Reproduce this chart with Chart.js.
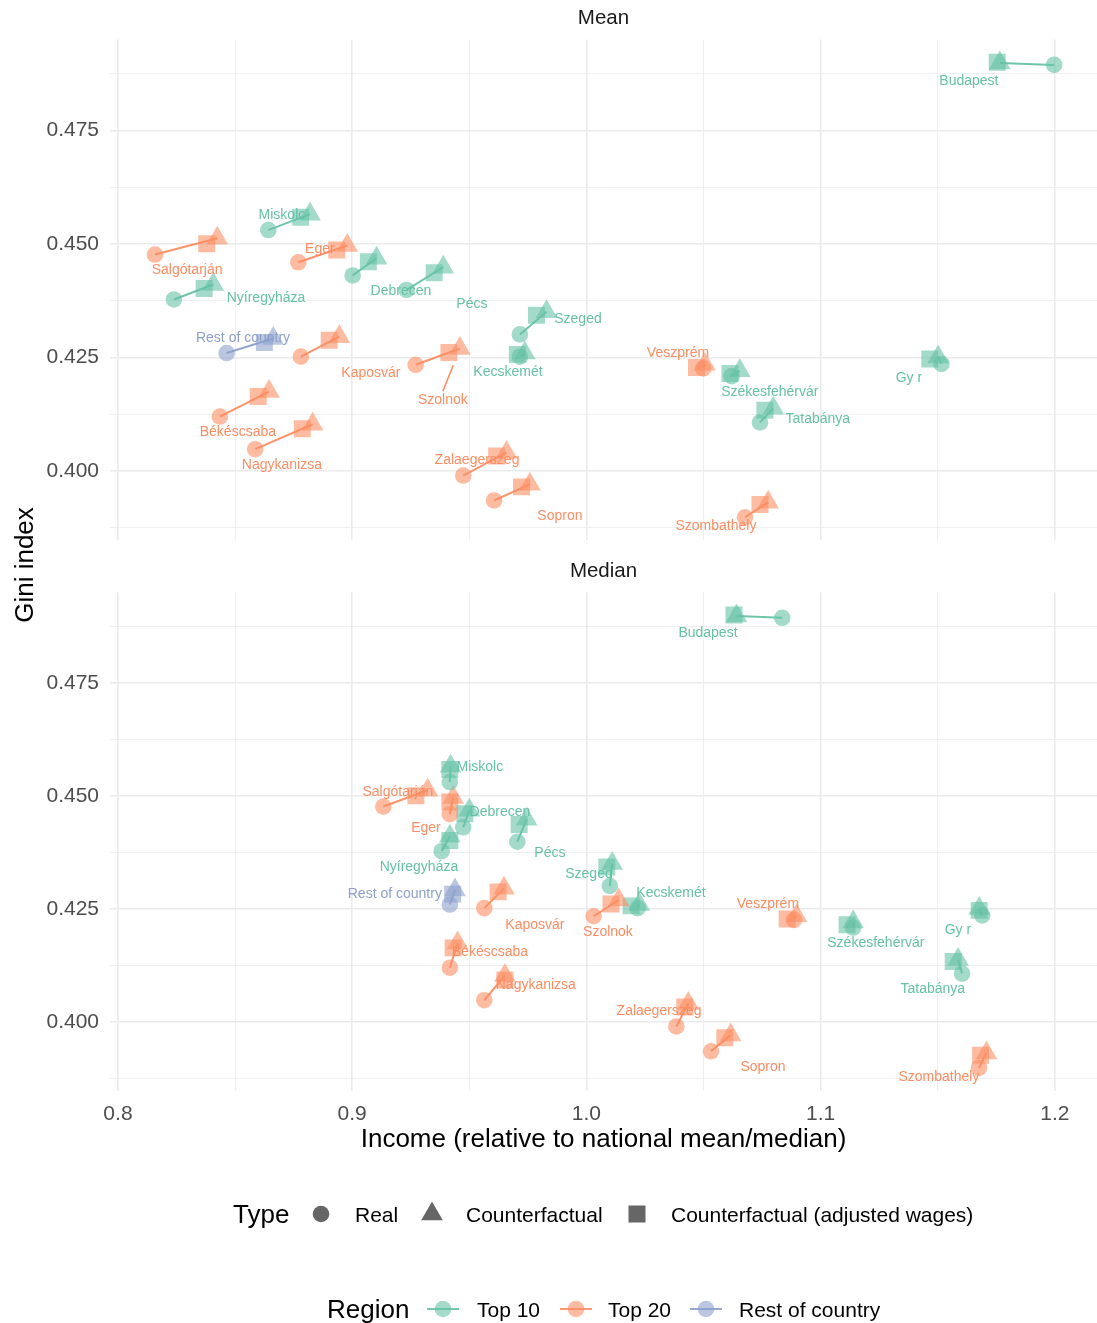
<!DOCTYPE html>
<html>
<head>
<meta charset="utf-8">
<script src="https://cdn.jsdelivr.net/npm/chart.js@4.4.1/dist/chart.umd.min.js"></script>
<style>
  body { margin: 0; background: #fff; font-family: "Liberation Sans", Arial, Helvetica, sans-serif; }
  #page { position: relative; width: 1097px; height: 1323px; overflow: hidden; }
  canvas { position: absolute; left: 0; }
  .txt { position: absolute; white-space: nowrap; line-height: 1; }
  svg { position: absolute; left: 0; top: 0; }
</style>
</head>
<body>
<div id="page">
  <canvas id="meanChart" width="1097" height="564" style="top:0"></canvas>
  <canvas id="medianChart" width="1097" height="613" style="top:553px"></canvas>
  <div class="txt" id="ytitle" style="left:-76px;top:550px;width:200px;height:30px;line-height:30px;text-align:center;font-size:26px;color:#000;transform:rotate(-90deg)">Gini index</div>
  <svg id="keys" width="1097" height="1323"></svg>
</div>
<script>
// cities, in the same order in every array below
const cities = ['Budapest', 'Miskolc', 'Salgótarján', 'Eger', 'Debrecen', 'Pécs', 'Nyíregyháza',
  'Rest of country', 'Kaposvár', 'Szolnok', 'Békéscsaba', 'Nagykanizsa', 'Zalaegerszeg', 'Sopron',
  'Szeged', 'Kecskemét', 'Veszprém', 'Székesfehérvár', 'Tatabánya', 'Szombathely', 'Győr'];
// label text as it appears on the plot (the ő glyph is missing there)
const cityLabels = cities.map(c => c === 'Győr' ? 'Gy r' : c);
const region = ['Top 10', 'Top 10', 'Top 20', 'Top 20', 'Top 10', 'Top 10', 'Top 10',
  'Rest of country', 'Top 20', 'Top 20', 'Top 20', 'Top 20', 'Top 20', 'Top 20',
  'Top 10', 'Top 10', 'Top 20', 'Top 10', 'Top 10', 'Top 20', 'Top 10'];

// Gini index (same in both panels)
const giniReal = [0.4895, 0.4531, 0.4477, 0.4460, 0.4431, 0.4399, 0.4378, 0.4260, 0.4252, 0.4234, 0.4120,
  0.4048, 0.3990, 0.3935, 0.4301, 0.4252, 0.4226, 0.4209, 0.4107, 0.3898, 0.4236];
const giniCf = [0.4899, 0.4566, 0.4513, 0.4497, 0.4469, 0.4449, 0.4411, 0.4292, 0.4296, 0.4270, 0.4175,
  0.4103, 0.4041, 0.3971, 0.4351, 0.4260, 0.4235, 0.4221, 0.4138, 0.3931, 0.4251];
const giniAdj = [0.4901, 0.4559, 0.4501, 0.4487, 0.4461, 0.4437, 0.4402, 0.4283, 0.4288, 0.4261, 0.4164,
  0.4093, 0.4033, 0.3965, 0.4343, 0.4257, 0.4228, 0.4215, 0.4134, 0.3926, 0.4247];

// income relative to national mean
const meanReal = [1.1997, 0.8642, 0.8158, 0.8770, 0.9002, 0.9232, 0.8239, 0.8464, 0.8781, 0.9271, 0.8435,
  0.8586, 0.9474, 0.9606, 0.9716, 0.9716, 1.0499, 1.0620, 1.0741, 1.0677, 1.1516];
const meanCf = [1.1765, 0.8820, 0.8424, 0.8979, 0.9104, 0.9389, 0.8407, 0.8663, 0.8945, 0.9460, 0.8645,
  0.8831, 0.9659, 0.9759, 0.9830, 0.9737, 1.0506, 1.0655, 1.0798, 1.0776, 1.1502];
const meanAdj = [1.1754, 0.8780, 0.8379, 0.8934, 0.9069, 0.9350, 0.8368, 0.8625, 0.8902, 0.9413, 0.8599,
  0.8787, 0.9617, 0.9723, 0.9787, 0.9705, 1.0470, 1.0613, 1.0762, 1.0741, 1.1466];

// income relative to national median
const medReal = [1.0836, 0.9417, 0.9133, 0.9417, 0.9474, 0.9705, 0.9382, 0.9417, 0.9564, 1.0031, 0.9417,
  0.9564, 1.0384, 1.0532, 1.0100, 1.0219, 1.0886, 1.1139, 1.1604, 1.1676, 1.1690];
const medCf = [1.0641, 0.9420, 0.9322, 0.9431, 0.9500, 0.9745, 0.9417, 0.9439, 0.9648, 1.0138, 0.9450,
  0.9652, 1.0435, 1.0616, 1.0110, 1.0226, 1.0897, 1.1139, 1.1587, 1.1708, 1.1677];
const medAdj = [1.0630, 0.9417, 0.9272, 0.9417, 0.9481, 0.9713, 0.9417, 0.9429, 0.9623, 1.0105, 0.9431,
  0.9652, 1.0420, 1.0591, 1.0087, 1.0191, 1.0857, 1.1113, 1.1566, 1.1683, 1.1677];

// where the repelled labels ended up (data units)
const meanLabX = [1.1633, 0.8700, 0.8295, 0.8862, 0.9208, 0.9511, 0.8632, 0.8534, 0.9080, 0.9387, 0.8512,
  0.8700, 0.9533, 0.9887, 0.9964, 0.9665, 1.0391, 1.0783, 1.0988, 1.0553, 1.1377];
const meanLabY = [0.4860, 0.4564, 0.4443, 0.4489, 0.4396, 0.4368, 0.4381, 0.4293, 0.4215, 0.4156, 0.4085,
  0.4012, 0.4023, 0.3900, 0.4335, 0.4218, 0.4260, 0.4174, 0.4114, 0.3878, 0.4204];
const medLabX = [1.0519, 0.9545, 0.9195, 0.9315, 0.9631, 0.9844, 0.9285, 0.9182, 0.9780, 1.0092, 0.9588,
  0.9784, 1.0310, 1.0754, 1.0011, 1.0361, 1.0775, 1.1236, 1.1479, 1.1505, 1.1586];
const medLabY = [0.4860, 0.4564, 0.4509, 0.4429, 0.4465, 0.4374, 0.4343, 0.4282, 0.4215, 0.4198, 0.4154,
  0.4081, 0.4023, 0.3900, 0.4328, 0.4286, 0.4260, 0.4174, 0.4072, 0.3878, 0.4204];
const meanLeaders = ['Szolnok'];

const xTicks = [0.8, 0.9, 1.0, 1.1, 1.2];
const yTicks = [0.400, 0.425, 0.450, 0.475];
const typeNames = ['Real', 'Counterfactual', 'Counterfactual (adjusted wages)'];
const regionNames = ['Top 10', 'Top 20', 'Rest of country'];
const regionColors = ['#66C2A5', '#FC8D62', '#8DA0CB'];

const FONT = '"Liberation Sans", Arial, Helvetica, sans-serif';
Chart.defaults.font.family = FONT;

function rgba(hex, a) {
  const n = parseInt(hex.slice(1), 16);
  return `rgba(${n >> 16},${(n >> 8) & 255},${n & 255},${a})`;
}
const colOf = i => regionColors[regionNames.indexOf(region[i])];

// major ticks plus the minor lines half way between them
function gridVals(major, lo, hi) {
  const step = major[1] - major[0];
  const out = [];
  for (let v = major[0] - step / 2; v <= hi + 1e-9; v += step / 2) {
    if (v >= lo - 1e-9) out.push(+v.toFixed(5));
  }
  return out;
}
const isMajor = (v, major) => major.some(m => Math.abs(m - v) < 1e-6);

const X_MIN = 0.7966, X_MAX = 1.218, Y_MIN = 0.3847, Y_MAX = 0.4951;

const panelText = {
  id: 'panelText',
  afterDatasetsDraw(chart, args, opts) {
    const { ctx, chartArea, scales: { x, y } } = chart;
    ctx.save();
    ctx.textAlign = 'center';
    ctx.textBaseline = 'middle';
    ctx.fillStyle = '#1A1A1A';
    ctx.font = '20.5px ' + FONT;
    ctx.fillText(opts.strip, (chartArea.left + chartArea.right) / 2, 18);

    // leader segments (under the text)
    opts.leaders.forEach(name => {
      const i = cities.indexOf(name);
      const lx = x.getPixelForValue(opts.labX[i]), ly = y.getPixelForValue(opts.labY[i]) - 9;
      const tx = x.getPixelForValue(opts.cfX[i]), ty = y.getPixelForValue(giniCf[i]);
      const d = Math.hypot(tx - lx, ty - ly), k = (d - 18) / d;
      ctx.strokeStyle = colOf(i);
      ctx.lineWidth = 1.6;
      ctx.beginPath();
      ctx.moveTo(lx, ly);
      ctx.lineTo(lx + (tx - lx) * k, ly + (ty - ly) * k);
      ctx.stroke();
    });

    ctx.font = '14px ' + FONT;
    cities.forEach((c, i) => {
      ctx.fillStyle = colOf(i);
      ctx.fillText(cityLabels[i], x.getPixelForValue(opts.labX[i]), y.getPixelForValue(opts.labY[i]));
    });
    ctx.restore();
  }
};

function makePanel(id, strip, incReal, incCf, incAdj, labX, labY, leaders, isBottom) {
  const datasets = [];
  cities.forEach((c, i) => {
    datasets.push({
      data: [{ x: incReal[i], y: giniReal[i] }, { x: incCf[i], y: giniCf[i] }],
      showLine: true, borderColor: rgba(colOf(i), 0.95), borderWidth: 2,
      pointRadius: 0, pointHoverRadius: 0, order: 2
    });
  });
  const shapes = [
    ['circle', 8.3, incReal, giniReal],
    ['triangle', 12.5, incCf, giniCf],
    ['rect', 12, incAdj, giniAdj]
  ];
  shapes.forEach(([style, r, xs, ys]) => {
    datasets.push({
      data: cities.map((c, i) => ({ x: xs[i], y: ys[i] })),
      pointStyle: style, pointRadius: r, pointHoverRadius: r,
      pointBackgroundColor: cities.map((c, i) => rgba(colOf(i), 0.6)),
      pointBorderWidth: 0, showLine: false, order: 1
    });
  });

  return new Chart(document.getElementById(id), {
    type: 'scatter',
    data: { datasets },
    plugins: [panelText],
    options: {
      responsive: false,
      animation: false,
      events: [],
      layout: { autoPadding: false, padding: { top: 39.5, bottom: isBottom ? 0 : 6, left: 0, right: 0 } },
      plugins: {
        legend: { display: false },
        tooltip: { enabled: false },
        panelText: { strip, labX, labY, leaders, cfX: incCf }
      },
      scales: {
        x: {
          type: 'linear', min: X_MIN, max: X_MAX, bounds: 'data',
          afterBuildTicks: s => { s.ticks = gridVals(xTicks, X_MIN, X_MAX).map(v => ({ value: v })); },
          afterFit: s => { s.height = isBottom ? 75 : 0; },
          border: { display: false },
          grid: {
            color: '#EBEBEB', drawTicks: false,
            lineWidth: c => (c.tick && isMajor(c.tick.value, xTicks)) ? 1.6 : 0.8
          },
          ticks: {
            display: isBottom, autoSkip: false, maxRotation: 0, padding: 11,
            color: '#4D4D4D', font: { size: 21 },
            callback: v => isMajor(v, xTicks) ? v.toFixed(1) : ''
          },
          title: {
            display: isBottom, text: 'Income (relative to national mean/median)',
            color: '#000', font: { size: 26 }, padding: { top: 0, bottom: 11 }
          }
        },
        y: {
          type: 'linear', min: Y_MIN, max: Y_MAX, bounds: 'data',
          afterBuildTicks: s => { s.ticks = gridVals(yTicks, Y_MIN, Y_MAX).map(v => ({ value: v })); },
          afterFit: s => { s.width = 110; },
          border: { display: false },
          grid: {
            color: '#EBEBEB', drawTicks: false,
            lineWidth: c => (c.tick && isMajor(c.tick.value, yTicks)) ? 1.6 : 0.8
          },
          ticks: {
            autoSkip: false, padding: 11, color: '#4D4D4D', font: { size: 21 },
            callback: v => isMajor(v, yTicks) ? v.toFixed(3) : ''
          }
        }
      }
    }
  });
}

makePanel('meanChart', 'Mean', meanReal, meanCf, meanAdj, meanLabX, meanLabY, meanLeaders, false);
makePanel('medianChart', 'Median', medReal, medCf, medAdj, medLabX, medLabY, [], true);

// ---- legends ----
const page = document.getElementById('page');
const svg = document.getElementById('keys');
function addText(str, left, baseline, size) {
  const d = document.createElement('div');
  d.className = 'txt';
  d.textContent = str;
  d.style.left = left + 'px';
  d.style.top = (baseline - 0.8465 * size) + 'px';
  d.style.fontSize = size + 'px';
  d.style.color = '#000';
  page.appendChild(d);
}
function addSvg(tag, attrs) {
  const el = document.createElementNS('http://www.w3.org/2000/svg', tag);
  Object.entries(attrs).forEach(([k, v]) => el.setAttribute(k, v));
  svg.appendChild(el);
}

// Type legend
const typeY = 1214;
addText('Type', 233, 1223, 26);
const typeKeyX = [321, 432, 637];
const typeTextX = [355, 466, 671];
addSvg('circle', { cx: typeKeyX[0], cy: typeY, r: 8.3, fill: '#666666' });
{
  const cx = typeKeyX[1], r = 12.5, h = r * Math.sqrt(3) / 2;
  addSvg('polygon', { points: `${cx},${typeY - r} ${cx + h},${typeY + r / 2} ${cx - h},${typeY + r / 2}`, fill: '#666666' });
}
addSvg('rect', { x: typeKeyX[2] - 8.5, y: typeY - 8.5, width: 17, height: 17, fill: '#666666' });
typeNames.forEach((t, i) => addText(t, typeTextX[i], 1222, 21));

// Region legend
const regY = 1309;
addText('Region', 327, 1318, 26);
const regKeyX = [443, 576, 706];
const regTextX = [477, 608, 739];
regionNames.forEach((n, i) => {
  const cx = regKeyX[i];
  addSvg('circle', { cx, cy: regY, r: 8.3, fill: rgba(regionColors[i], 0.6) });
  addSvg('line', { x1: cx - 16, y1: regY, x2: cx + 16, y2: regY, stroke: regionColors[i], 'stroke-width': 1.8 });
  addText(n, regTextX[i], 1317, 21);
});
</script>
</body>
</html>
